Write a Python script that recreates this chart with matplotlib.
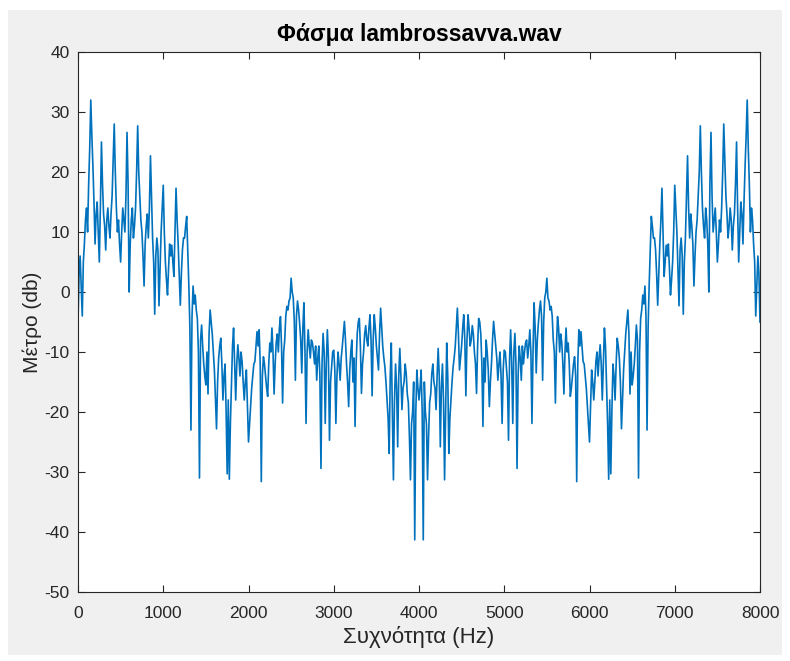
import numpy as np
import matplotlib
matplotlib.use("Agg")
import matplotlib.pyplot as plt
from matplotlib.patches import Rectangle

# Magnitude spectrum (dB) of the lower half, 0..4000 Hz in 12.5 Hz bins
# (eight bins per row = 100 Hz). The upper half, 4000..8000 Hz, mirrors it.
bin_hz = 12.5
half_db = [
    -5, 3, 6, 1, -4, 5, 8, 12,                       # 0
    14, 10, 18, 24, 32, 26, 21, 15,                  # 100
    8, 13, 15, 10, 5, 14, 25, 18,                    # 200
    13, 11, 7, 12, 14, 11, 9, 13,                    # 300
    16, 22, 28, 20, 14, 10, 12, 8,                   # 400
    5, 10, 14, 12, 10, 16, 26.6, 18,                 # 500
    0, 8, 12, 14, 9, 11, 14, 20,                     # 600
    27.7, 20, 16, 12, 10, 6, 1, 8,                   # 700
    11, 13, 9, 14, 22.7, 16, 9, 5,                   # 800
    -3.7, 6, 9, 7, -2.3, 4, 10, 14,                  # 900
    17.8, 10, 5, 2, -0.5, 4, 8, 6,                   # 1000
    7.8, 5, 2.6, 10, 17.3, 12, 8, 3,                 # 1100
    -2.2, 3, 7, 9, 9, 11, 12.6, 7,                   # 1200
    1.2, -6, -23, -4, 1, -2, -0.5, -3,               # 1300
    -4.4, -10, -31, -8, -5.5, -9, -12, -14,          # 1400
    -15.5, -10, -17, -7, -3, -5, -7, -10,            # 1500
    -13, -18, -22.8, -15, -11, -9, -7.7, -12,        # 1600
    -18, -14, -12, -20, -30.3, -18, -31.2, -22,      # 1700
    -15.5, -9, -6, -12, -18, -12, -8.8, -11,         # 1800
    -14, -10, -11.6, -15, -18, -15, -13, -19,        # 1900
    -25, -22, -19, -16, -14, -12, -11.6, -9,         # 2000
    -6.6, -9, -6.3, -12, -31.6, -14, -10.8, -12,     # 2100
    -14, -16, -17.4, -12, -8.5, -10, -6, -10,        # 2200
    -17, -12, -8.5, -7, -10, -6, -4.1, -9,           # 2300
    -18.5, -10, -8, -4, -2.4, -3, -1.5, -1,          # 2400
    2.3, 0, -1, -5, -14.7, -4, -1.5, -3,             # 2500
    -5.3, -8, -13.5, -6, -1.8, -10, -21.9, -10,      # 2600
    -6.3, -9, -11, -8, -8.5, -10, -12, -9,           # 2700
    -14.7, -11, -9, -14, -29.4, -12, -6.9, -10,      # 2800
    -21.9, -12, -6.3, -11, -24.7, -15, -12.5, -10,   # 2900
    -9.7, -13, -21.9, -14, -10, -12, -14.7, -11,     # 3000
    -9.1, -7, -4.9, -8, -12, -15, -19.1, -13,        # 3100
    -10, -8, -15, -11, -22.4, -12, -7, -5,           # 3200
    -4.4, -9, -16.9, -12, -10, -7, -5.6, -8,         # 3300
    -9, -6, -3.8, -8, -17.3, -8, -3.8, -6,           # 3400
    -9, -11, -13, -7, -2.7, -6, -9.1, -11,           # 3500
    -12.5, -15, -18, -21, -26.9, -14, -8.5, -20,     # 3600
    -31.3, -18, -12, -16, -25.8, -14, -9.4, -14,     # 3700
    -19.6, -16, -15, -12, -13.6, -17, -18.4, -24,    # 3800
    -31.3, -22, -20, -15, -41.3, -20, -13, -16,      # 3900
    -18,                                             # 4000
]

half_db = np.array(half_db, dtype=float)
spectrum_db = np.concatenate([half_db, half_db[-2::-1]])
freq_hz = np.arange(len(spectrum_db)) * bin_hz

title = "Φάσμα lambrossavva.wav"
xlabel = "Συχνότητα (Hz)"
ylabel = "Μέτρο (db)"
xticks = np.arange(0, 8001, 1000)
yticks = np.arange(-50, 41, 10)

plt.rcParams["font.family"] = ["Liberation Sans", "DejaVu Sans"]
plt.rcParams["axes.unicode_minus"] = False

W, H = 790, 661
fig = plt.figure(figsize=(W / 100, H / 100), dpi=100, facecolor="white")
fig.patches.append(Rectangle((8 / W, 1 - 655 / H), 774 / W, 645 / H,
                             transform=fig.transFigure, facecolor="#f0f0f0",
                             edgecolor="none", zorder=-10))

ax = fig.add_axes([78 / W, 1 - 592 / H, 682 / W, 540 / H])
ax.set_facecolor("white")
ax.plot(freq_hz, spectrum_db, color="#0072BD", linewidth=1.2)

ax.set_xlim(0, 8000)
ax.set_ylim(-50, 40)
ax.set_xticks(xticks)
ax.set_yticks(yticks)
axis_color = "#262626"
ax.tick_params(direction="in", length=5, width=0.8, colors=axis_color,
               labelsize=12.5, top=True, right=True, pad=6)
ax.tick_params(axis="x", pad=10)
for s in ax.spines.values():
    s.set_color(axis_color)
    s.set_linewidth(0.8)

ax.set_title(title, fontsize=16.5, fontweight="bold", color="black", pad=8)
ax.set_xlabel(xlabel, fontsize=16, color=axis_color, labelpad=4)
ax.set_ylabel(ylabel, fontsize=15, color=axis_color, labelpad=2)

fig.savefig("out.png", dpi=100, facecolor=fig.get_facecolor())
